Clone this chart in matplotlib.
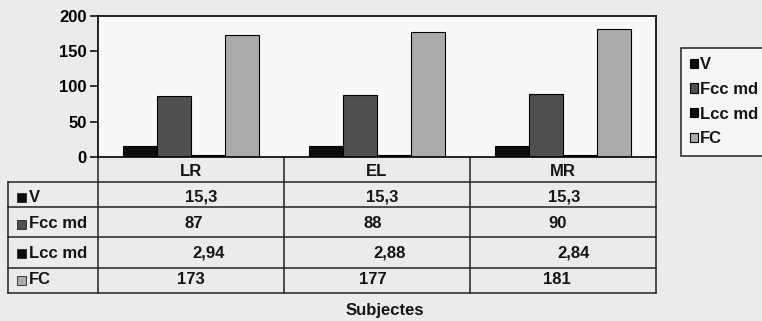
import matplotlib
matplotlib.use("Agg")
import matplotlib.pyplot as plt
import numpy as np

# dades per subjecte
subjectes = ["LR", "EL", "MR"]
series = ["V", "Fcc md", "Lcc md", "FC"]
v_vals = [15.3, 15.3, 15.3]
fcc_vals = [87, 88, 90]
lcc_vals = [2.94, 2.88, 2.84]
fc_vals = [173, 177, 181]
colors = ["#0c0c0c", "#505050", "#0c0c0c", "#ababab"]

plt.rcParams["font.family"] = ["Liberation Sans", "DejaVu Sans"]
plt.rcParams["font.size"] = 12
plt.rcParams["font.weight"] = "bold"
plt.rcParams["text.color"] = "#151515"

W, H = 762, 321
fig = plt.figure(figsize=(W / 100, H / 100), dpi=100, facecolor="#ebebeb")

# capa de fons en pixels per a la taula de dades
bg = fig.add_axes([0, 0, 1, 1])
bg.set_xlim(0, W); bg.set_ylim(H, 0); bg.axis("off")

X0, X1, Y0, Y1 = 97.7, 656, 16, 157   # area del grafic (px)
ax = fig.add_axes([X0 / W, 1 - Y1 / H, (X1 - X0) / W, (Y1 - Y0) / H])
ax.set_facecolor("#f8f8f8")

vals = [v_vals, fcc_vals, lcc_vals, fc_vals]
x = np.arange(len(subjectes))
w = 0.183
bars = []
for i, (s, v, c) in enumerate(zip(series, vals, colors)):
    b = ax.bar(x + (i - 1.5) * w, v, w, color=c, edgecolor="black", lw=0.8, label=s)
    bars.append(b)
ax.set_xlim(-0.5, 2.5); ax.set_ylim(0, 200)
ax.set_yticks([0, 50, 100, 150, 200])
ax.set_xticks([])
ax.tick_params(axis="y", length=6, width=1.1, pad=2, labelsize=12)
for sp in ax.spines.values():
    sp.set_linewidth(1.2)

# taula de dades sota el grafic
lw = 1.1
col_w = (X1 - X0) / 3
rows_y = [182, 207, 237, 268, 293]
for y in rows_y:
    bg.plot([8, X1], [y, y], color="#222", lw=lw)
bg.plot([8, 8], [rows_y[0], rows_y[-1]], color="#222", lw=lw)
for k in range(4):
    xc = X0 + k * col_w
    bg.plot([xc, xc], [Y1, rows_y[-1]], color="#222", lw=lw)

for k, s in enumerate(subjectes):
    bg.text(X0 + (k + 0.5) * col_w, 171, s, ha="center", va="center")

def fmt(v):
    return ("%g" % v).replace(".", ",")

row_cy = [197, 224, 253, 280]
offsets = [[87, 82, 78], [87, 80, 78], [95, 90, 87], [79, 75, 73]]
for r, (s, v, c) in enumerate(zip(series, vals, colors)):
    bg.add_patch(plt.Rectangle((17, row_cy[r] - 4.5), 9, 9, facecolor=c,
                               edgecolor="#222", lw=0.6))
    bg.text(29, row_cy[r], s, ha="left", va="center")
    for k in range(3):
        bg.text(X0 + k * col_w + offsets[r][k], row_cy[r], fmt(v[k]),
                ha="left", va="center")

bg.text(385, 310, "Subjectes", ha="center", va="center")

leg = fig.legend(handles=bars, labels=series, loc="upper left",
                 bbox_to_anchor=(681 / W, 1 - 48 / H), frameon=True,
                 fancybox=False, edgecolor="#222", facecolor="#f6f6f6",
                 handlelength=0.48, handleheight=0.48, handletextpad=0.12,
                 labelspacing=0.58, borderpad=0.56, borderaxespad=0)
leg.get_frame().set_linewidth(1.1)
leg.get_frame().set_alpha(1)

fig.savefig("out.png", dpi=100, facecolor=fig.get_facecolor())
